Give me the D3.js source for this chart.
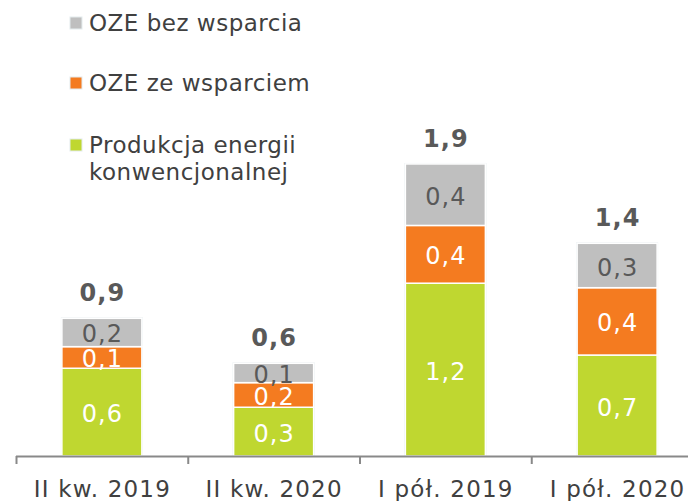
<!DOCTYPE html>
<html>
<head>
<meta charset="utf-8">
<script src="https://cdn.jsdelivr.net/npm/d3@7"></script>
<style>
  html, body { margin: 0; padding: 0; background: #fff; }
  svg { display: block; font-family: "DejaVu Sans", Verdana, sans-serif; }
</style>
</head>
<body>
<svg id="chart" width="688" height="501"></svg>
<script>
// ---- data ----
const categories = ["II kw. 2019", "II kw. 2020", "I pół. 2019", "I pół. 2020"];
const seriesKeys = ["konw", "ozeWsp", "ozeBez"];
const seriesNames = ["Produkcja energii konwencjonalnej", "OZE ze wsparciem", "OZE bez wsparcia"];
const konw   = [0.585, 0.325, 1.152, 0.673];   // Produkcja energii konwencjonalnej
const ozeWsp = [0.144, 0.164, 0.385, 0.449];   // OZE ze wsparciem
const ozeBez = [0.189, 0.129, 0.410, 0.296];   // OZE bez wsparcia
const colors = ["#BFD730", "#F47B20", "#BFBFBF"];
const labelColors = ["#ffffff", "#ffffff", "#595959"];

const rows = categories.map((c, i) => ({ cat: c, konw: konw[i], ozeWsp: ozeWsp[i], ozeBez: ozeBez[i] }));

const svg = d3.select("#chart");
const W = 688, H = 501;
const baseY = 456;

const xOuter = d3.scaleBand().domain(categories).range([16, 703]).padding(0);
const step = xOuter.bandwidth();
const barW = 80;
const y = d3.scaleLinear().domain([0, 2.4]).range([baseY, baseY - 360]);

const fmt = d3.formatLocale({ decimal: ",", thousands: " ", grouping: [3], currency: ["", ""] }).format(".1f");

const stack = d3.stack().keys(seriesKeys)(rows);

const barsG = svg.append("g");
const totals = rows.map(r => r.konw + r.ozeWsp + r.ozeBez);
barsG.selectAll("rect.outline").data(rows).join("rect")
  .attr("class", "outline")
  .attr("x", d => xOuter(d.cat) + (step - barW) / 2 - 1)
  .attr("width", barW + 2)
  .attr("y", (d, i) => y(totals[i]) - 1)
  .attr("height", (d, i) => baseY - y(totals[i]) + 1)
  .attr("fill", "#e4ecee");

stack.forEach((layer, li) => {
  const g = barsG.append("g");
  g.selectAll("rect").data(layer).join("rect")
    .attr("x", d => xOuter(d.data.cat) + (step - barW) / 2)
    .attr("width", barW)
    .attr("y", d => y(d[1]))
    .attr("height", d => y(d[0]) - y(d[1]))
    .attr("fill", colors[li])
    .attr("stroke", "#fff")
    .attr("stroke-width", 1.5);
});

// segment labels
stack.forEach((layer, li) => {
  svg.append("g").selectAll("text").data(layer).join("text")
    .attr("x", d => xOuter(d.data.cat) + step / 2 + 0.5)
    .attr("y", d => (y(d[0]) + y(d[1])) / 2 + 2)
    .attr("text-anchor", "middle")
    .attr("dominant-baseline", "central")
    .attr("font-size", 24)
    .attr("letter-spacing", 1)
    .attr("fill", labelColors[li])
    .text(d => fmt(d[1] - d[0]));
});

// total labels
svg.append("g").selectAll("text").data(rows).join("text")
  .attr("x", d => xOuter(d.cat) + step / 2 + 0.5)
  .attr("y", (d, i) => y(totals[i]) - 17)
  .attr("text-anchor", "middle")
  .attr("font-size", 24)
  .attr("font-weight", "bold")
  .attr("letter-spacing", 1)
  .attr("fill", "#595959")
  .text((d, i) => fmt(totals[i]));

// axis
const axisG = svg.append("g");
axisG.append("line")
  .attr("x1", 16).attr("x2", W).attr("y1", baseY + 0.5).attr("y2", baseY + 0.5)
  .attr("stroke", "#898989").attr("stroke-width", 2);
const bounds = categories.map(c => xOuter(c)).concat([xOuter.range()[1]]);
axisG.selectAll("line.tick").data(bounds).join("line")
  .attr("class", "tick")
  .attr("x1", d => d + 0.5).attr("x2", d => d + 0.5)
  .attr("y1", baseY).attr("y2", baseY + 8)
  .attr("stroke", "#898989").attr("stroke-width", 2);
axisG.selectAll("text").data(categories).join("text")
  .attr("x", d => xOuter(d) + step / 2 + 0.5)
  .attr("y", 497)
  .attr("text-anchor", "middle")
  .attr("font-size", 23)
  .attr("letter-spacing", 1.2)
  .attr("fill", "#404040")
  .text(d => d);

// legend (top to bottom: OZE bez, OZE ze, Produkcja)
const legendItems = [
  { color: colors[2], lines: ["OZE bez wsparcia"], y: 31 },
  { color: colors[1], lines: ["OZE ze wsparciem"], y: 91 },
  { color: colors[0], lines: ["Produkcja energii", "konwencjonalnej"], y: 153 }
];
const lg = svg.append("g");
legendItems.forEach(it => {
  lg.append("rect").attr("x", 70).attr("y", it.y - 14).attr("width", 12).attr("height", 12)
    .attr("fill", it.color).attr("stroke", "#e4ecee").attr("stroke-width", 1);
  const t = lg.append("text").attr("x", 89).attr("y", it.y)
    .attr("font-size", 23).attr("letter-spacing", 0.5).attr("fill", "#404040");
  it.lines.forEach((ln, k) => {
    t.append("tspan").attr("x", 89).attr("dy", k === 0 ? 0 : 27).text(ln);
  });
});
</script>
</body>
</html>
